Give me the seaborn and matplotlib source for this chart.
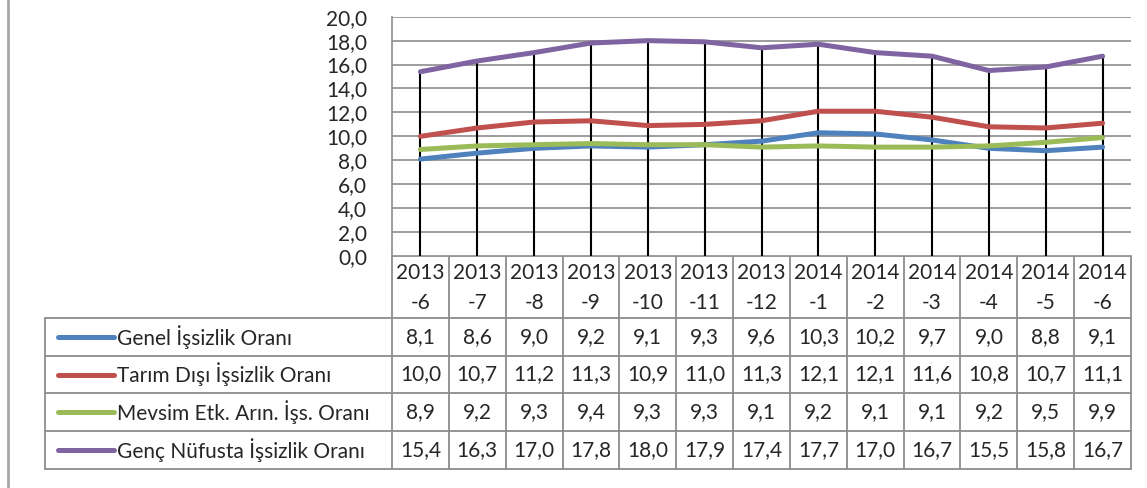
import numpy as np
import pandas as pd
import seaborn as sns
import matplotlib.pyplot as plt
from matplotlib.ticker import FuncFormatter

months = ['2013\n-6', '2013\n-7', '2013\n-8', '2013\n-9', '2013\n-10', '2013\n-11', '2013\n-12',
          '2014\n-1', '2014\n-2', '2014\n-3', '2014\n-4', '2014\n-5', '2014\n-6']
series_names = ['Genel İşsizlik Oranı', 'Tarım Dışı İşsizlik Oranı',
                'Mevsim Etk. Arın. İşs. Oranı', 'Genç Nüfusta İşsizlik Oranı']
genel = [8.1, 8.6, 9.0, 9.2, 9.1, 9.3, 9.6, 10.3, 10.2, 9.7, 9.0, 8.8, 9.1]
tarim_disi = [10.0, 10.7, 11.2, 11.3, 10.9, 11.0, 11.3, 12.1, 12.1, 11.6, 10.8, 10.7, 11.1]
mevsim = [8.9, 9.2, 9.3, 9.4, 9.3, 9.3, 9.1, 9.2, 9.1, 9.1, 9.2, 9.5, 9.9]
genc = [15.4, 16.3, 17.0, 17.8, 18.0, 17.9, 17.4, 17.7, 17.0, 16.7, 15.5, 15.8, 16.7]
colors = ['#4F81BD', '#C0504D', '#9BBB59', '#8064A2']

all_series = [genel, tarim_disi, mevsim, genc]
idx = np.arange(len(months))
df = pd.DataFrame({
    'i': np.tile(idx, 4),
    'seri': np.repeat(series_names, len(months)),
    'oran': np.concatenate(all_series),
})

sns.set_theme(style='white')
plt.rcParams['font.family'] = ['Lato', 'DejaVu Sans']
txt_col = '#262626'
grid_col = '#8c8c8c'
fs = 15

W, H = 1147, 488
fig = plt.figure(figsize=(W / 100, H / 100), dpi=100)


def px(x0, y0, x1, y1):
    return [x0 / W, 1 - y1 / H, (x1 - x0) / W, (y1 - y0) / H]


x_left, x_right = 392, 1131
y_top, y_bot = 16.7, 256
ax = fig.add_axes(px(x_left, y_top, x_right, y_bot))

# drop lines from the highest point down to the axis
tops = np.max(np.array(all_series), axis=0)
ax.vlines(idx, 0, tops, color='black', lw=1.5, zorder=1.5)
sns.lineplot(data=df, x='i', y='oran', hue='seri', palette=colors, hue_order=series_names,
             lw=3.6, legend=False, ax=ax, zorder=3)

ax.set_xlim(-0.5, len(months) - 0.5)
ax.set_ylim(0, 20)
ax.set_yticks(np.arange(0, 21, 2))
ax.yaxis.set_major_formatter(FuncFormatter(lambda v, p: f'{v:.1f}'.replace('.', ',')))
ax.set_xticks([])
ax.set_xlabel('')
ax.set_ylabel('')
ax.yaxis.grid(True, color=grid_col, lw=1.2)
ax.tick_params(axis='y', length=0, pad=18, labelsize=fs, labelcolor=txt_col)
for s in ['top', 'right', 'bottom']:
    ax.spines[s].set_visible(False)
ax.spines['left'].set_color(grid_col)
ax.spines['left'].set_linewidth(1.2)

# data table under the plot, drawn in pixel coordinates
tax = fig.add_axes([0, 0, 1, 1], zorder=-1)
tax.set_xlim(0, W)
tax.set_ylim(H, 0)
tax.axis('off')

col_w = (x_right - x_left) / len(months)
xs = x_left + col_w * np.arange(len(months) + 1)
row_y = [318, 356, 393, 431, 469]
leg_left = 45
line_kw = dict(color=grid_col, lw=1.3)

tax.plot([x_left, x_right], [y_bot, y_bot], **line_kw)
for y in row_y:
    tax.plot([leg_left, x_right], [y, y], **line_kw)
tax.plot([leg_left, leg_left], [row_y[0], row_y[-1]], **line_kw)
for x in xs:
    tax.plot([x, x], [y_bot, row_y[-1]], **line_kw)

for k, m in enumerate(months):
    cx = (xs[k] + xs[k + 1]) / 2
    tax.text(cx, (y_bot + row_y[0]) / 2 + 1, m, ha='center', va='center', fontsize=fs,
             color=txt_col, linespacing=1.6)

for r, (name, vals, c) in enumerate(zip(series_names, all_series, colors)):
    cy = (row_y[r] + row_y[r + 1]) / 2
    tax.plot([58, 114], [cy, cy], color=c, lw=3.6, solid_capstyle='round')
    tax.text(117, cy, name, ha='left', va='center', fontsize=fs, color=txt_col)
    for k, v in enumerate(vals):
        cx = (xs[k] + xs[k + 1]) / 2
        tax.text(cx, cy, f'{v:.1f}'.replace('.', ','), ha='center', va='center',
                 fontsize=fs, color=txt_col)

# outer chart border on the left
tax.plot([8, 8], [0, H], color='#a6a6a6', lw=2)

fig.savefig('out.png', dpi=100)
